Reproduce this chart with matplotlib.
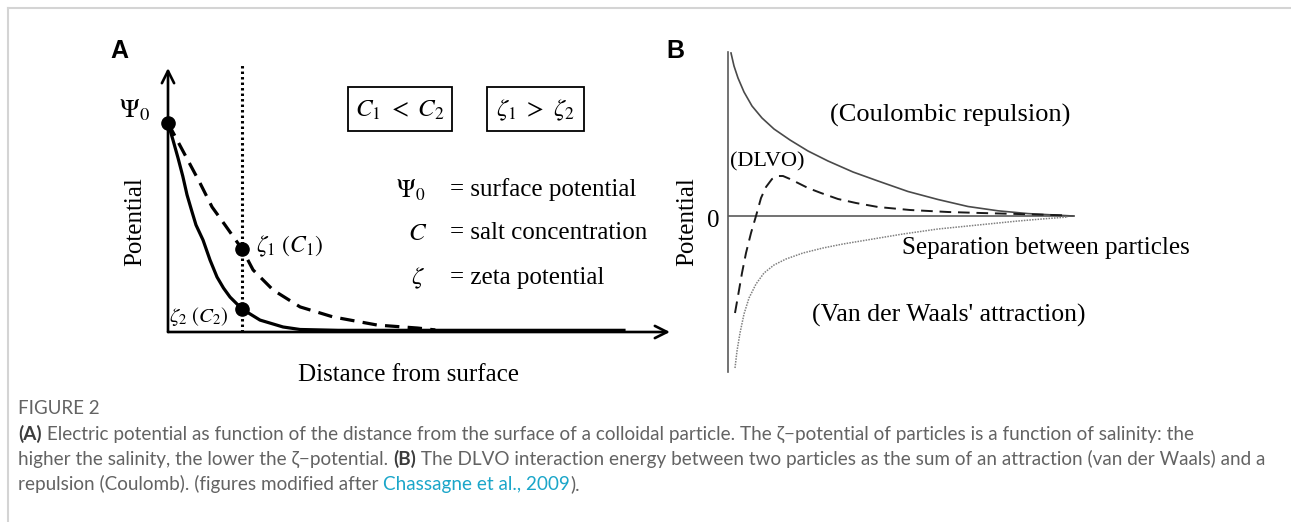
import matplotlib
matplotlib.use("Agg")
import matplotlib.pyplot as plt
from matplotlib.patches import Rectangle
from matplotlib.lines import Line2D

plt.rcParams['mathtext.fontset'] = 'stix'
SERIF = 'Liberation Serif'

# ---------------- data ----------------
# Panel A: potential vs distance from surface (distance in units of the shear-plane distance)
dist_solid = [0.0, 0.07, 0.135, 0.20, 0.257, 0.32, 0.378, 0.473, 0.568, 0.662, 0.75, 0.838, 1.0,
              1.243, 1.554, 1.784, 2.3, 6.18]
pot_solid = [1.0, 0.915, 0.833, 0.745, 0.656, 0.580, 0.512, 0.440, 0.344, 0.263, 0.210, 0.167, 0.110,
             0.057, 0.024, 0.012, 0.008, 0.008]
dist_dashed = [0.0, 0.23, 0.432, 0.595, 0.77, 1.0, 1.149, 1.419, 1.784, 2.23, 2.83, 3.37, 3.61]
pot_dashed = [1.0, 0.847, 0.713, 0.598, 0.512, 0.397, 0.297, 0.201, 0.120, 0.072, 0.033, 0.019, 0.010]
shear_plane = 1.0
psi0 = 1.0
zeta1 = 0.397
zeta2 = 0.110

# Panel B: interaction potentials vs separation
sep_coul = [0.03, 0.06, 0.10, 0.16, 0.24, 0.34, 0.46, 0.62, 0.80, 1.00, 1.25, 1.50, 1.80, 2.10,
            2.40, 2.70, 3.00, 3.30, 3.45]
pot_coul = [1.63, 1.50, 1.38, 1.24, 1.10, 0.98, 0.87, 0.76, 0.65, 0.55, 0.44, 0.35, 0.245, 0.165,
            0.095, 0.052, 0.024, 0.008, 0.0]
sep_dlvo = [0.07, 0.10, 0.14, 0.18, 0.23, 0.28, 0.33, 0.38, 0.44, 0.50, 0.55, 0.62, 0.70, 0.80,
            0.93, 1.10, 1.28, 1.50, 1.82, 2.20, 2.53, 2.90, 3.25, 3.40]
pot_dlvo = [-0.97, -0.80, -0.57, -0.37, -0.17, 0.0, 0.18, 0.29, 0.37, 0.40, 0.40, 0.37, 0.33, 0.28,
            0.23, 0.17, 0.13, 0.09, 0.06, 0.04, 0.03, 0.02, 0.01, 0.005]
sep_vdw = [0.07, 0.09, 0.12, 0.16, 0.21, 0.28, 0.36, 0.46, 0.58, 0.75, 0.95, 1.15, 1.45, 1.75,
           2.10, 2.50, 2.90, 3.20, 3.40]
pot_vdw = [-1.52, -1.35, -1.17, -0.98, -0.82, -0.68, -0.57, -0.49, -0.43, -0.37, -0.32, -0.28,
           -0.23, -0.18, -0.13, -0.09, -0.05, -0.025, -0.01]

# ---------------- figure ----------------
W, H = 1291, 522
fig = plt.figure(figsize=(W / 100, H / 100), dpi=100)
fig.patch.set_facecolor('white')


def fx(px):
    return px / W


def fy(py):
    return 1 - py / H


# frame lines (left and top)
fig.add_artist(Line2D([fx(7.5), fx(7.5)], [fy(7.5), 0], transform=fig.transFigure,
                      color='#d4d4d4', lw=1.5))
fig.add_artist(Line2D([fx(7.5), 1], [fy(7.5), fy(7.5)], transform=fig.transFigure,
                      color='#d4d4d4', lw=1.5))

# ---------------- Panel A ----------------
axA = fig.add_axes([fx(168), fy(332), (670 - 168) / W, (332 - 68) / H])
axA.set_xlim(0, 6.78)
axA.set_ylim(0, 1.263)
axA.axis('off')
arrow_kw = dict(arrowstyle='->', lw=1.9, color='black', mutation_scale=22, shrinkA=0, shrinkB=0)
axA.annotate('', xy=(1, 0), xytext=(0, 0), xycoords='axes fraction', arrowprops=arrow_kw)
axA.annotate('', xy=(0, 1), xytext=(0, 0), xycoords='axes fraction', arrowprops=arrow_kw)

axA.plot([shear_plane, shear_plane], [0, 1.275], color='black', lw=2.2,
         linestyle=(0, (0.8, 1.0)), clip_on=False)
axA.plot(dist_solid, pot_solid, color='black', lw=2.3, clip_on=False, solid_capstyle='butt')
axA.plot(dist_dashed, pot_dashed, color='black', lw=2.3, linestyle=(0, (4.5, 2.6)), clip_on=False)
axA.plot([0, shear_plane, shear_plane], [psi0, zeta1, zeta2], 'o', color='black',
         markersize=9.5, clip_on=False, zorder=5)

fs = 18
fig.text(fx(119), fy(51), 'A', ha='center', va='center', fontsize=18, weight='bold',
         family='Liberation Sans')
fig.text(fx(150), fy(110), r'$\Psi_0$', ha='right', va='center', fontsize=19)
fig.text(fx(135), fy(222), 'Potential', ha='center', va='center', rotation=90, fontsize=fs,
         family=SERIF)
fig.text(fx(408), fy(375), 'Distance from surface', ha='center', va='center', fontsize=fs,
         family=SERIF)

for (x0, x1) in [(348, 452), (487, 584)]:
    fig.add_artist(Rectangle((fx(x0), fy(131)), (x1 - x0) / W, (131 - 87) / H,
                             transform=fig.transFigure, fill=False, ec='black', lw=1.3))
fig.text(fx(400), fy(110), r'$C_1\ <\ C_2$', ha='center', va='center', fontsize=fs)
fig.text(fx(535.5), fy(110), r'$\zeta_1\ >\ \zeta_2$', ha='center', va='center', fontsize=fs)

fig.text(fx(411), fy(190), r'$\Psi_0$', ha='center', va='center', fontsize=fs)
fig.text(fx(418), fy(233), r'$C$', ha='center', va='center', fontsize=fs)
fig.text(fx(418), fy(278), r'$\zeta$', ha='center', va='center', fontsize=fs)
fig.text(fx(450), fy(190), '= surface potential', ha='left', va='center', fontsize=fs, family=SERIF)
fig.text(fx(450), fy(233), '= salt concentration', ha='left', va='center', fontsize=fs, family=SERIF)
fig.text(fx(450), fy(278), '= zeta potential', ha='left', va='center', fontsize=fs, family=SERIF)

fig.text(fx(256), fy(246), r'$\zeta_1\ (C_1)$', ha='left', va='center', fontsize=17)
fig.text(fx(169), fy(317), r'$\zeta_2\ (C_2)$', ha='left', va='center', fontsize=15)

# ---------------- Panel B ----------------
axB = fig.add_axes([fx(728), fy(372), (1075 - 728) / W, (372 - 52) / H])
axB.set_xlim(0, 3.47)
axB.set_ylim(-1.56, 1.64)
for s in ['top', 'right', 'bottom']:
    axB.spines[s].set_visible(False)
axB.spines['left'].set_color('#5a5a5a')
axB.spines['left'].set_linewidth(1.2)
axB.set_xticks([])
axB.set_yticks([])
axB.patch.set_alpha(0)
axB.axhline(0, color='#5a5a5a', lw=1.2)
axB.plot(sep_coul, pot_coul, color='#4a4a4a', lw=1.2, clip_on=False)
axB.plot(sep_dlvo, pot_dlvo, color='#1a1a1a', lw=1.4, linestyle=(0, (6, 3.5)), clip_on=False)
axB.plot(sep_vdw, pot_vdw, color='#808080', lw=1.1, linestyle=(0, (1, 0.8)), clip_on=False)

fig.text(fx(675), fy(51), 'B', ha='center', va='center', fontsize=18, weight='bold',
         family='Liberation Sans')
fig.text(fx(713), fy(221), '0', ha='center', va='center', fontsize=fs, family=SERIF)
fig.text(fx(687), fy(222), 'Potential', ha='center', va='center', rotation=90, fontsize=fs,
         family=SERIF)
fig.text(fx(950), fy(115), '(Coulombic repulsion)', ha='center', va='center', fontsize=19,
         family=SERIF)
fig.text(fx(730), fy(162), '(DLVO)', ha='left', va='center', fontsize=16, family=SERIF)
fig.text(fx(1046), fy(248), 'Separation between particles', ha='center', va='center', fontsize=fs,
         family=SERIF)
fig.text(fx(949), fy(315), "(Van der Waals' attraction)", ha='center', va='center', fontsize=18.5,
         family=SERIF)

# ---------------- caption ----------------
CAP = ['Lato', 'DejaVu Sans']
GREY = '#636363'
DARK = '#3c3c3c'
LINK = '#1ba6c9'
cfs = 13.6
fig.text(fx(18), fy(409), 'FIGURE 2', ha='left', va='center', fontsize=13.5, color=GREY, family=CAP)

lines = [
    [('(A)', DARK, 'bold'),
     (' Electric potential as function of the distance from the surface of a colloidal particle. '
      'The \u03b6\u2212potential of particles is a function of salinity: the', GREY, 'normal')],
    [('higher the salinity, the lower the \u03b6\u2212potential. ', GREY, 'normal'),
     ('(B)', DARK, 'bold'),
     (' The DLVO interaction energy between two particles as the sum of an attraction '
      '(van der Waals) and a', GREY, 'normal')],
    [('repulsion (Coulomb). (figures modified after ', GREY, 'normal'),
     ('Chassagne et al., 2009', LINK, 'normal'),
     (').', GREY, 'normal')],
]
line_y = [434, 459, 484]
for segs, yy in zip(lines, line_y):
    last = None
    for txt, col, wt in segs:
        if last is None:
            last = fig.text(fx(18), fy(yy), txt, ha='left', va='center', fontsize=cfs, color=col,
                            weight=wt, family=CAP)
        else:
            last = axA.annotate(txt, xy=(1, 0), xycoords=last, va='bottom', ha='left',
                                fontsize=cfs, color=col, weight=wt, family=CAP,
                                annotation_clip=False)

fig.savefig('out.png', dpi=100, facecolor='white')
